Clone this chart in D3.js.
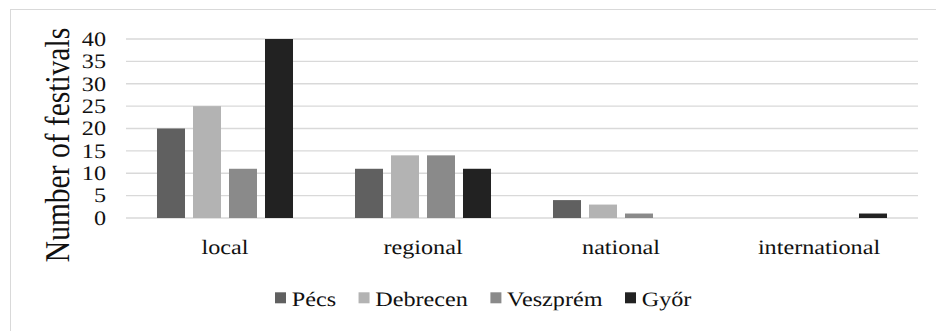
<!DOCTYPE html>
<html>
<head>
<meta charset="utf-8">
<script src="https://cdn.jsdelivr.net/npm/d3@7"></script>
<style>
  html, body { margin: 0; padding: 0; background: #fff; }
  svg { display: block; }
  svg text { text-rendering: geometricPrecision; }
</style>
</head>
<body>
<svg id="chart" width="936" height="331"></svg>
<script>
// Festival counts by reach, per city
const categories = ["local", "regional", "national", "international"];
const series = ["Pécs", "Debrecen", "Veszprém", "Győr"];
const pecs     = [20, 11, 4, 0];
const debrecen = [25, 14, 3, 0];
const veszprem = [11, 14, 1, 0];
const gyor     = [40, 11, 0, 1];
const yTicks = [0, 5, 10, 15, 20, 25, 30, 35, 40];
const yTitle = "Number of festivals";

const seriesValues = [pecs, debrecen, veszprem, gyor];
const colors = ["#606060", "#b3b3b3", "#8a8a8a", "#222222"];

const FONT = "'Liberation Serif', 'Times New Roman', Times, serif";
// text is drawn slightly wide, as in the original layout
const SX = 1.18;

const svg = d3.select("#chart");

// outer frame
svg.append("rect")
  .attr("x", 10.5).attr("y", 9.5)
  .attr("width", 940).attr("height", 340)
  .attr("fill", "none").attr("stroke", "#d9d9d9").attr("stroke-width", 1);

const plot = { left: 126, right: 918, top: 39, bottom: 218 };

const x0 = d3.scaleBand().domain(categories).range([plot.left, plot.right]);
const x1 = d3.scaleBand().domain(series).range([0, x0.bandwidth()])
  .paddingInner(0.222).paddingOuter(0.861);
const y = d3.scaleLinear().domain([0, 40]).range([plot.bottom, plot.top]);

// horizontal gridlines
svg.append("g").selectAll("line").data(yTicks).join("line")
  .attr("x1", plot.left).attr("x2", plot.right)
  .attr("y1", d => y(d)).attr("y2", d => y(d))
  .attr("stroke", "#d9d9d9").attr("stroke-width", 1.4);

// bars
const rows = categories.map((c, i) => ({
  cat: c,
  vals: series.map((s, j) => ({ s, j, v: seriesValues[j][i] }))
}));
svg.append("g").selectAll("g").data(rows).join("g")
  .attr("transform", d => `translate(${x0(d.cat)},0)`)
  .selectAll("rect").data(d => d.vals.filter(e => e.v > 0)).join("rect")
  .attr("x", d => x1(d.s))
  .attr("width", x1.bandwidth())
  .attr("y", d => y(d.v))
  .attr("height", d => y(0) - y(d.v))
  .attr("fill", d => colors[d.j]);

// helper: stretched text anchored at (px, py)
function stretchText(g, px, py, str, size, anchor, rot) {
  return g.append("text")
    .attr("transform", `translate(${px},${py}) scale(${SX},1)` + (rot ? ` rotate(${rot})` : ""))
    .attr("text-anchor", anchor)
    .attr("font-family", FONT)
    .attr("font-size", size)
    .attr("fill", "#111")
    .text(str);
}

// y tick labels
const yl = svg.append("g");
yTicks.forEach(t => stretchText(yl, 106, y(t) + 6.8, String(t), 20.5, "end"));

// y axis title
stretchText(svg, 69, 145, yTitle, 29.5, "middle", -90);

// category labels
const xl = svg.append("g");
categories.forEach(c => stretchText(xl, x0(c) + x0.bandwidth() / 2, 254, c, 20.5, "middle"));

// legend
const lg = svg.append("g");
let lx = 275;
series.forEach((s, j) => {
  lg.append("rect").attr("x", lx).attr("y", 292.3).attr("width", 11).attr("height", 11)
    .attr("fill", colors[j]);
  const t = stretchText(lg, lx + 16.7, 305.5, s, 20.5, "start");
  const w = t.node().getComputedTextLength() * SX;
  lx = lx + 16.7 + w + 22.5;
});
</script>
</body>
</html>
